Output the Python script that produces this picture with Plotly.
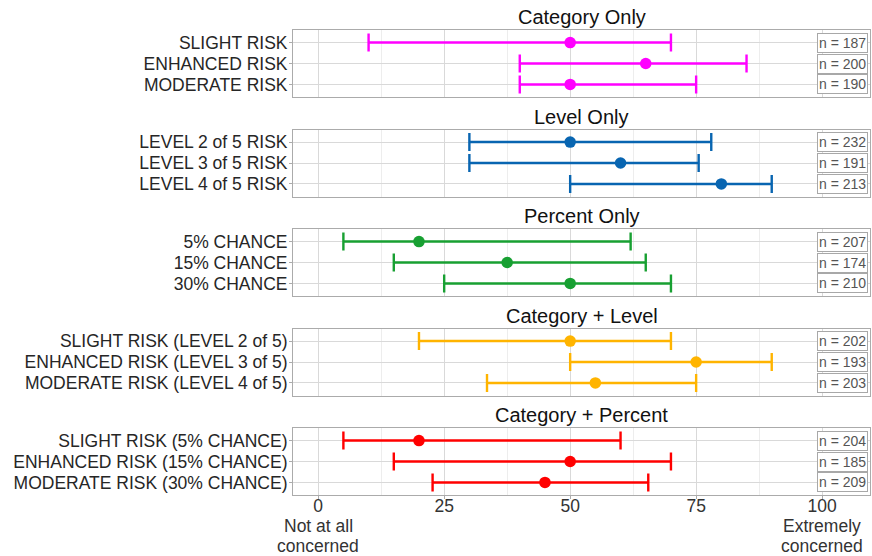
import plotly.graph_objects as go

W, H = 872, 556

# Panel titles and row labels
panel_titles = ["Category Only", "Level Only", "Percent Only",
                "Category + Level", "Category + Percent"]

labels_category = ["SLIGHT RISK", "ENHANCED RISK", "MODERATE RISK"]
labels_level = ["LEVEL 2 of 5 RISK", "LEVEL 3 of 5 RISK", "LEVEL 4 of 5 RISK"]
labels_percent = ["5% CHANCE", "15% CHANCE", "30% CHANCE"]
labels_cat_level = ["SLIGHT RISK (LEVEL 2 of 5)", "ENHANCED RISK (LEVEL 3 of 5)",
                    "MODERATE RISK (LEVEL 4 of 5)"]
labels_cat_percent = ["SLIGHT RISK (5% CHANCE)", "ENHANCED RISK (15% CHANCE)",
                      "MODERATE RISK (30% CHANCE)"]

# Medians with lower / upper interval bounds (0-100 concern scale)
median_category = [50, 65, 50]
lower_category = [10, 40, 40]
upper_category = [70, 85, 75]

median_level = [50, 60, 80]
lower_level = [30, 30, 50]
upper_level = [78, 75.5, 90]

median_percent = [20, 37.5, 50]
lower_percent = [5, 15, 25]
upper_percent = [62, 65, 70]

median_cat_level = [50, 75, 55]
lower_cat_level = [20, 50, 33.5]
upper_cat_level = [70, 90, 75]

median_cat_percent = [20, 50, 45]
lower_cat_percent = [5, 15, 22.7]
upper_cat_percent = [60, 70, 65.5]

# Sample sizes
n_category = [187, 200, 190]
n_level = [232, 191, 213]
n_percent = [207, 174, 210]
n_cat_level = [202, 193, 203]
n_cat_percent = [204, 185, 209]

x_tickvals = [0, 25, 50, 75, 100]
x_ticktext = ["0", "25", "50", "75", "100"]
x_minor = [12.5, 37.5, 62.5, 87.5]

colors = ["#FF00FF", "#0865B1", "#18A032", "#FFB400", "#FF0000"]

panels = [
    (labels_category, median_category, lower_category, upper_category, n_category),
    (labels_level, median_level, lower_level, upper_level, n_level),
    (labels_percent, median_percent, lower_percent, upper_percent, n_percent),
    (labels_cat_level, median_cat_level, lower_cat_level, upper_cat_level, n_cat_level),
    (labels_cat_percent, median_cat_percent, lower_cat_percent, upper_cat_percent, n_cat_percent),
]

FONT = "Liberation Sans, Arial, sans-serif"
GRID = "#D9D9D9"
GRID_MINOR = "#EDEDED"
BORDER = "#ABABAB"

x_left, x_right = 293, 870
panel_tops = [30, 129.5, 229, 328.5, 428]
panel_h = 67

fig = go.Figure()
annotations = []

for i, (labels, med, lo, hi, ns) in enumerate(panels):
    k = i + 1
    xname = "x" if k == 1 else f"x{k}"
    yname = "y" if k == 1 else f"y{k}"
    last = (i == len(panels) - 1)

    fig.add_trace(go.Scatter(
        x=med, y=labels, mode="markers",
        xaxis=xname, yaxis=yname,
        marker=dict(size=11.5, color=colors[i]),
        error_x=dict(
            type="data", symmetric=False,
            array=[h - m for h, m in zip(hi, med)],
            arrayminus=[m - l for m, l in zip(med, lo)],
            color=colors[i], thickness=2.4, width=9,
        ),
        showlegend=False, hoverinfo="skip",
    ))

    top = panel_tops[i]
    y_dom = [1 - (top + panel_h) / H, 1 - top / H]

    fig.layout[f"xaxis{k}"] = dict(
        domain=[x_left / W, x_right / W], anchor=yname,
        range=[-5, 109.5], tickmode="array",
        tickvals=x_tickvals, ticktext=x_ticktext,
        showticklabels=last, ticks="outside" if last else "",
        ticklen=3, tickcolor=BORDER, ticklabelstandoff=-8,
        tickfont=dict(family=FONT, size=17.5, color="#333333"),
        showgrid=True, gridcolor=GRID, gridwidth=1,
        minor=dict(tickvals=x_minor, showgrid=True, gridcolor=GRID_MINOR,
                   gridwidth=0.7, ticks=""),
        zeroline=False, showline=True, mirror=True,
        linecolor=BORDER, linewidth=1, fixedrange=True,
    )
    fig.layout[f"yaxis{k}"] = dict(
        domain=y_dom, anchor=xname, type="category",
        categoryorder="array", categoryarray=labels,
        tickmode="array", tickvals=labels, ticktext=labels,
        range=[2.6, -0.6],
        ticks="outside", ticklen=3, tickcolor=BORDER, ticklabelstandoff=-2,
        tickfont=dict(family=FONT, size=17.5, color="#262626"),
        showgrid=True, gridcolor=GRID, gridwidth=1,
        zeroline=False, showline=True, mirror=True,
        linecolor=BORDER, linewidth=1, fixedrange=True,
    )

    # Panel title
    annotations.append(dict(
        text=panel_titles[i], xref="paper", yref="paper",
        x=(x_left + x_right) / 2 / W, y=1 - (top - 13) / H,
        xanchor="center", yanchor="middle", showarrow=False,
        font=dict(family=FONT, size=20, color="#111111"),
    ))

    # Sample size boxes
    for lab, n in zip(labels, ns):
        annotations.append(dict(
            text=f"n = {n}", xref=xname, yref=yname, x=104, y=lab,
            xanchor="center", yanchor="middle", showarrow=False,
            font=dict(family=FONT, size=14, color="#555555"),
            bgcolor="white", bordercolor="#A8A8A8", borderwidth=1, borderpad=1,
        ))

# End-point descriptions under the bottom axis
for xv, lines in [(0, ["Not at all", "concerned"]), (100, ["Extremely", "concerned"])]:
    for j, line in enumerate(lines):
        annotations.append(dict(
            text=line, xref="x5", yref="paper", x=xv, y=1 - (526 + 20 * j) / H,
            xanchor="center", yanchor="middle", showarrow=False,
            font=dict(family=FONT, size=17.5, color="#333333"),
        ))

fig.update_layout(
    width=W, height=H,
    margin=dict(l=0, r=0, t=0, b=0),
    paper_bgcolor="white", plot_bgcolor="white",
    annotations=annotations,
    font=dict(family=FONT),
)

fig.write_html("out.html")
